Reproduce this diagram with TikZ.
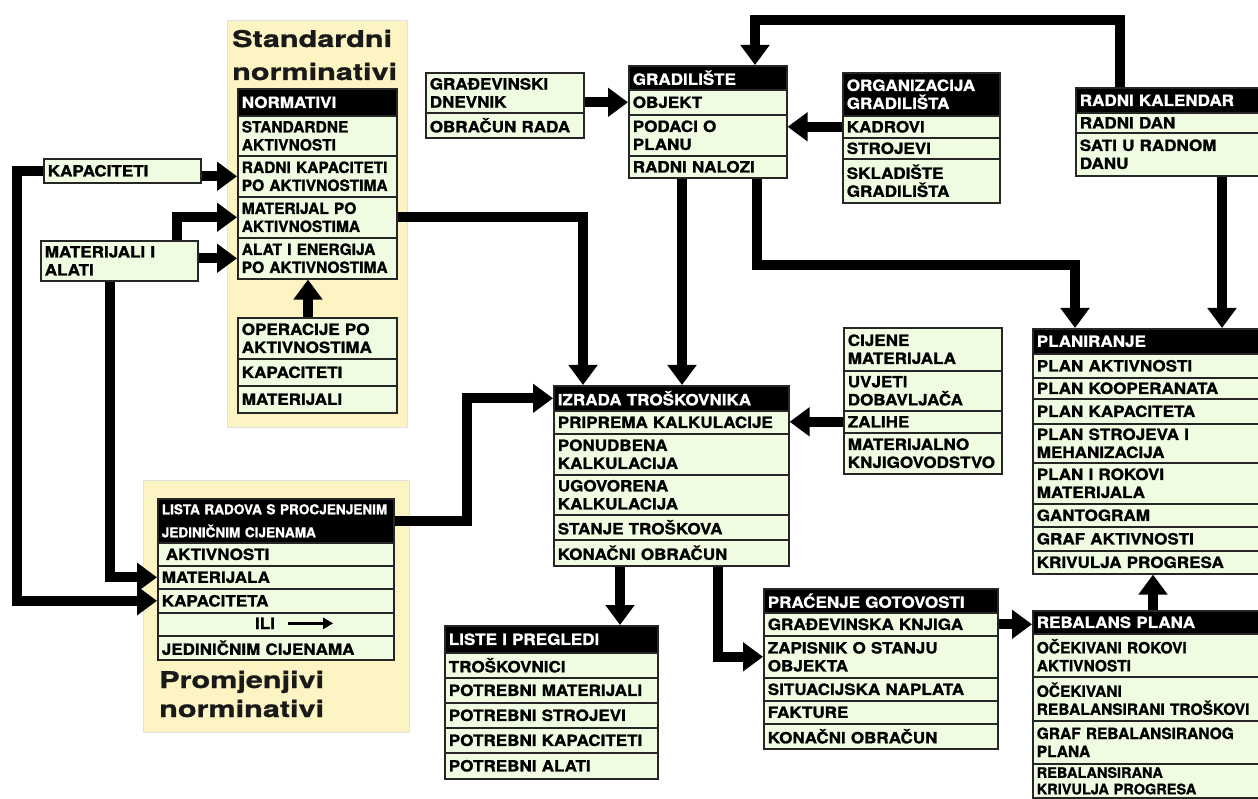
\documentclass[tikz,border=0pt]{standalone}
\usepackage{fontspec}
\usepackage{graphicx}
\usetikzlibrary{arrows.meta}
\newfontfamily\hvw{TeX Gyre Heros}[FakeStretch=1.1,FakeBold=1.2]
\newfontfamily\hvn{TeX Gyre Heros}[FakeBold=1.2]
\newfontfamily\hvt{TeX Gyre Heros}[FakeStretch=1.33,FakeBold=1.2]
\definecolor{cellgreen}{RGB}{240,252,226}
\definecolor{yel}{RGB}{252,244,194}
\newcommand\rowfont{\hvw\bfseries\fontsize{15.5}{18}\selectfont}
\newcommand\narrowfont{\hvn\bfseries\fontsize{15.5}{18}\selectfont}
\newcommand\ttlfont{\hvt\bfseries\fontsize{23}{23}\selectfont}
\tikzset{
  cell/.style={draw=black!85, line width=1.6pt, fill=cellgreen, anchor=north west,
    inner xsep=4pt, inner ysep=0pt, align=left, font=\rowfont, text=black},
  hd/.style={cell, fill=black, text=white},
  nf/.style={font=\narrowfont},
  bw/.code={\pgfmathsetmacro\cellw{#1-8}\tikzset{minimum width=#1pt,text width=\cellw pt}},
  bh/.style={minimum height=#1pt},
  yelbg/.style={anchor=north west, fill=yel, draw=black!12, line width=1pt, inner sep=0pt},
  ttl/.style={anchor=base west, inner sep=0pt, font=\ttlfont, text=black!90},
  arr/.style={line width=10pt, line join=miter, -{Triangle[length=20pt,width=28pt]}},
  thinarr/.style={line width=3pt, -{Triangle[length=10pt,width=11pt]}}
}
\begin{document}
\begin{tikzpicture}[x=1pt,y=-1pt]
\useasboundingbox (0,0) rectangle (1258,799);
\clip (0,0) rectangle (1258,799);
\fill[white] (0,0) rectangle (1258,799);

% yellow backgrounds
\node[yelbg, minimum width=180pt, minimum height=407pt] (stdbg) at (227,20) {};
\node[yelbg, minimum width=266pt, minimum height=252pt] (prbg) at (143,480) {};
\node[ttl] (t1) at (232,47) {Standardni};
\node[ttl] (t2) at (232,80) {norminativi};
\node[ttl] (t3) at (159,688) {Promjenjivi};
\node[ttl] (t4) at (159,717) {norminativi};

% NORMATIVI
\node[hd,bw=159,bh=27] (n0) at (237,88) {NORMATIVI};
\node[cell,nf,bw=159,bh=40] (n1) at (237,115) {STANDARDNE\\AKTIVNOSTI};
\node[cell,nf,bw=159,bh=41] (n2) at (237,155) {RADNI KAPACITETI\\PO AKTIVNOSTIMA};
\node[cell,nf,bw=159,bh=41] (n3) at (237,196) {MATERIJAL PO\\AKTIVNOSTIMA};
\node[cell,nf,bw=159,bh=41] (n4) at (237,237) {ALAT I ENERGIJA\\PO AKTIVNOSTIMA};

% OPERACIJE
\node[cell,bw=159,bh=41] (op1) at (237,317) {OPERACIJE PO\\AKTIVNOSTIMA};
\node[cell,bw=159,bh=27] (op2) at (237,358) {KAPACITETI};
\node[cell,bw=159,bh=27] (op3) at (237,385) {MATERIJALI};

% left boxes
\node[cell,bw=157,bh=24] (kapL) at (43,158) {KAPACITETI};
\node[cell,bw=157,bh=40] (matL) at (40,240) {MATERIJALI I\\ALATI};

% LISTA RADOVA
\node[hd,bw=236,bh=44,font=\hvn\bfseries\fontsize{13.6}{23}\selectfont] (lh) at (157,498)
  {\mbox{LISTA RADOVA S PROCJENJENIM}\\\mbox{JEDINIČNIM CIJENAMA}};
\node[cell,bw=236,bh=23] (l1) at (157,542) {\hspace*{4pt}AKTIVNOSTI};
\node[cell,bw=236,bh=23] (l2) at (157,565) {MATERIJALA};
\node[cell,bw=236,bh=24] (l3) at (157,588) {KAPACITETA};
\node[cell,bw=236,bh=23] (l4) at (157,612) {};
\node[cell,bw=236,bh=24] (l5) at (157,635) {JEDINIČNIM CIJENAMA};
\node[font=\rowfont, anchor=base, inner sep=0pt] (ili) at (265,629) {ILI};
\draw[thinarr] ([xshift=13pt]ili.east) -- ++(45,0);

% GRADJEVINSKI DNEVNIK
\node[cell,bw=158,bh=40] (gd1) at (425,72) {GRAĐEVINSKI\\DNEVNIK};
\node[cell,bw=158,bh=25] (gd2) at (425,112) {OBRAČUN RADA};

% GRADILISTE
\node[hd,bw=158,bh=24] (g0) at (628,65) {GRADILIŠTE};
\node[cell,bw=158,bh=25] (g1) at (628,89) {OBJEKT};
\node[cell,bw=158,bh=41] (g2) at (628,114) {PODACI O\\PLANU};
\node[cell,bw=158,bh=22] (g3) at (628,155) {RADNI NALOZI};

% ORGANIZACIJA
\node[hd,bw=157,bh=43] (o0) at (842,72) {ORGANIZACIJA\\GRADILIŠTA};
\node[cell,bw=157,bh=22] (o1) at (842,115) {KADROVI};
\node[cell,bw=157,bh=21] (o2) at (842,137) {STROJEVI};
\node[cell,bw=157,bh=44] (o3) at (842,158) {SKLADIŠTE\\GRADILIŠTA};

% RADNI KALENDAR
\node[hd,bw=200,bh=25] (r0) at (1075,87) {RADNI KALENDAR};
\node[cell,bw=200,bh=20] (r1) at (1075,112) {RADNI DAN};
\node[cell,bw=200,bh=43] (r2) at (1075,132) {SATI U RADNOM\\DANU};

% IZRADA TROSKOVNIKA
\node[hd,bw=235,bh=25] (i0) at (553,385) {IZRADA TROŠKOVNIKA};
\node[cell,bw=235,bh=23] (i1) at (553,410) {PRIPREMA KALKULACIJE};
\node[cell,bw=235,bh=41] (i2) at (553,433) {PONUDBENA\\KALKULACIJA};
\node[cell,bw=235,bh=40] (i3) at (553,474) {UGOVORENA\\KALKULACIJA};
\node[cell,bw=235,bh=25] (i4) at (553,514) {STANJE TROŠKOVA};
\node[cell,bw=235,bh=26] (i5) at (553,539) {KONAČNI OBRAČUN};

% CIJENE
\node[cell,bw=158,bh=43] (c1) at (843,327) {CIJENE\\MATERIJALA};
\node[cell,bw=158,bh=40] (c2) at (843,370) {UVJETI\\DOBAVLJAČA};
\node[cell,bw=158,bh=22] (c3) at (843,410) {ZALIHE};
\node[cell,bw=158,bh=41] (c4) at (843,432) {MATERIJALNO\\KNJIGOVODSTVO};

% PLANIRANJE
\node[hd,bw=250,bh=25] (p0) at (1032,328) {PLANIRANJE};
\node[cell,bw=250,bh=24] (p1) at (1032,353) {PLAN AKTIVNOSTI};
\node[cell,bw=250,bh=21] (p2) at (1032,377) {PLAN KOOPERANATA};
\node[cell,bw=250,bh=25] (p3) at (1032,398) {PLAN KAPACITETA};
\node[cell,bw=250,bh=39] (p4) at (1032,423) {PLAN STROJEVA I\\MEHANIZACIJA};
\node[cell,bw=250,bh=41] (p5) at (1032,462) {PLAN I ROKOVI\\MATERIJALA};
\node[cell,bw=250,bh=23] (p6) at (1032,503) {GANTOGRAM};
\node[cell,bw=250,bh=24] (p7) at (1032,526) {GRAF AKTIVNOSTI};
\node[cell,bw=250,bh=23] (p8) at (1032,550) {KRIVULJA PROGRESA};

% LISTE I PREGLEDI
\node[hd,bw=213,bh=27] (ls0) at (444,625) {LISTE I PREGLEDI};
\node[cell,bw=213,bh=25] (ls1) at (444,652) {TROŠKOVNICI};
\node[cell,bw=213,bh=25] (ls2) at (444,677) {POTREBNI MATERIJALI};
\node[cell,bw=213,bh=25] (ls3) at (444,702) {POTREBNI STROJEVI};
\node[cell,bw=213,bh=25] (ls4) at (444,727) {POTREBNI KAPACITETI};
\node[cell,bw=213,bh=26] (ls5) at (444,752) {POTREBNI ALATI};

% PRACENJE GOTOVOSTI
\node[hd,bw=234,bh=24] (pg0) at (763,588) {PRAĆENJE GOTOVOSTI};
\node[cell,bw=234,bh=23] (pg1) at (763,612) {GRAĐEVINSKA KNJIGA};
\node[cell,bw=234,bh=42] (pg2) at (763,635) {ZAPISNIK O STANJU\\OBJEKTA};
\node[cell,bw=234,bh=23] (pg3) at (763,677) {SITUACIJSKA NAPLATA};
\node[cell,bw=234,bh=23] (pg4) at (763,700) {FAKTURE};
\node[cell,bw=234,bh=25] (pg5) at (763,723) {KONAČNI OBRAČUN};

% REBALANS PLANA
\node[hd,bw=250,bh=23] (rb0) at (1032,610) {REBALANS PLANA};
\node[cell,nf,bw=250,bh=43] (rb1) at (1032,633) {OČEKIVANI ROKOVI\\AKTIVNOSTI};
\node[cell,nf,bw=250,bh=44] (rb2) at (1032,676) {OČEKIVANI\\REBALANSIRANI TROŠKOVI};
\node[cell,nf,bw=250,bh=43] (rb3) at (1032,720) {GRAF REBALANSIRANOG\\PLANA};
\node[cell,nf,bw=250,bh=34,font=\hvn\bfseries\fontsize{14.5}{16.5}\selectfont] (rb4) at (1032,763) {REBALANSIRANA\\KRIVULJA PROGRESA};

% connectors
\draw[arr] (kapL.east |- n2.west) -- (n2.west);
\draw[arr] (matL.east |- n4.west) -- (n4.west);
\draw[arr] (177,0 |- matL.north) |- (n3.west);
\draw[arr] (kapL.west) -- ++(-26,0) |- (l3.west);
\draw[arr] (110,0 |- matL.south) |- (l2.west);
\draw[arr] (308,0 |- op1.north) -- (308,0 |- n4.south);
\draw[arr] (n3.east) -| (583,0 |- i0.north);
\draw[arr] (lh.east) -- ++(72,0) |- (i0.west);
\draw[arr] (gd1.east |- g1.west) -- (g1.west);
\draw[arr] (1120,0 |- r0.north) -- ++(0,-67) -| (755,0 |- g0.north);
\draw[arr] (o1.west) -- (o1.west -| g2.east);
\draw[arr] (682,0 |- g3.south) -- (682,0 |- i0.north);
\draw[arr] (757,0 |- g3.south) -- ++(0,86) -| (1075,0 |- p0.north);
\draw[arr] (1222,0 |- r2.south) -- (1222,0 |- p0.north);
\draw[arr] (c3.west) -- (c3.west -| i1.east);
\draw[arr] (620,0 |- i5.south) -- (620,0 |- ls0.north);
\draw[arr] (718,0 |- i5.south) |- (pg2.west);
\draw[arr] (pg1.east) -- (pg1.east -| rb0.west);
\draw[arr] (1153,0 |- rb0.north) -- (1153,0 |- p8.south);
\end{tikzpicture}
\end{document}
